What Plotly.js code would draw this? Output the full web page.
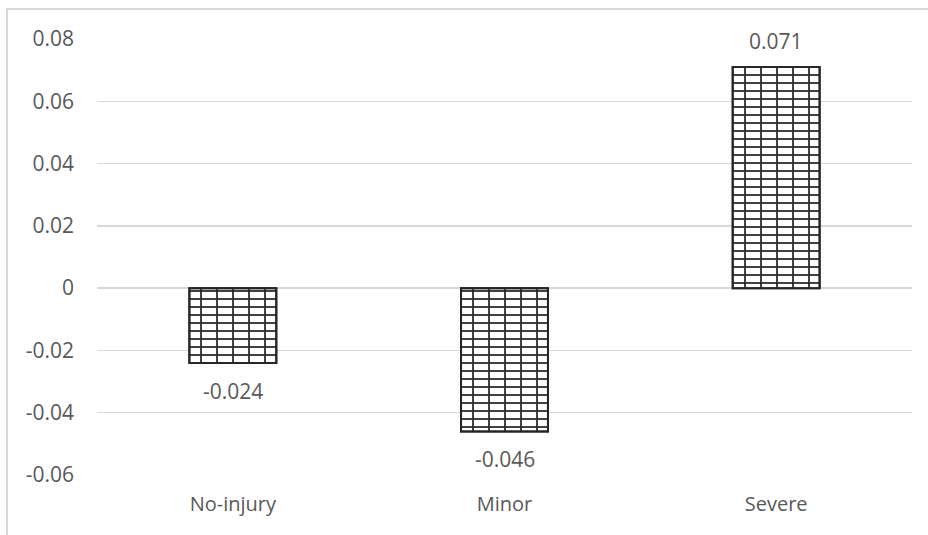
<!DOCTYPE html>
<html>
<head>
<meta charset="utf-8">
<script src="https://cdn.plot.ly/plotly-3.0.1.min.js"></script>
<style>
html,body{margin:0;padding:0;background:#fff;}
#wrap{position:relative;width:928px;height:535px;overflow:hidden;}
#chart{position:absolute;left:0;top:0;width:928px;height:535px;}
#frame{position:absolute;left:6px;top:8px;width:1000px;height:1000px;border-left:2px solid #d9d9d9;border-top:2px solid #d9d9d9;pointer-events:none;}
</style>
</head>
<body>
<div id="wrap"><div id="chart"></div><div id="frame"></div></div>
<script>
const categories = ["No-injury", "Minor", "Severe"];
const values = [-0.024, -0.046, 0.071];
const labels = ["-0.024", "-0.046", "0.071"];
const yTickVals = [-0.06, -0.04, -0.02, 0, 0.02, 0.04, 0.06, 0.08];
const yTickText = ["-0.06", "-0.04", "-0.02", "0", "0.02", "0.04", "0.06", "0.08"];

const font = {family: "Open Sans, sans-serif", size: 20, color: "#595959"};
const yfont = {family: "Open Sans, sans-serif", size: 21, color: "#595959"};

const horiz = {
  type: "bar", x: categories, y: values, hoverinfo: "skip",
  marker: {
    color: "#000000",
    line: {color: "#262626", width: 2},
    pattern: {shape: "-", size: 8, solidity: 0.22, fgcolor: "#262626", bgcolor: "#ffffff"}
  }
};
const vert = {
  type: "bar", x: categories, y: values, hoverinfo: "skip",
  marker: {
    color: "#262626",
    line: {color: "#262626", width: 2},
    pattern: {shape: "|", size: 16, solidity: 0.11, fgcolor: "#262626"}
  }
};

const annotations = categories.map((c, i) => ({
  x: c, y: values[i], xref: "x", yref: "y",
  text: labels[i], showarrow: false, font: yfont,
  yanchor: "middle", yshift: values[i] < 0 ? -28 : 26
}));

const layout = {
  width: 928, height: 535,
  margin: {l: 97, r: 16, t: 38.5, b: 59.7},
  paper_bgcolor: "rgba(0,0,0,0)", plot_bgcolor: "#ffffff",
  showlegend: false,
  barmode: "overlay", bargap: 0.68,
  font: font,
  xaxis: {
    showgrid: false, zeroline: false, showline: false, ticks: "",
    tickfont: font, ticklabelstandoff: 15, fixedrange: true
  },
  yaxis: {
    range: [-0.06, 0.08], tickvals: yTickVals, ticktext: yTickText,
    showgrid: true, gridcolor: "#d9d9d9", gridwidth: 1.3,
    zeroline: true, zerolinecolor: "#d9d9d9", zerolinewidth: 1.3,
    showline: false, ticks: "", tickfont: yfont, ticklabelstandoff: 22, fixedrange: true
  },
  annotations: annotations
};

Plotly.newPlot("chart", [horiz, vert], layout, {staticPlot: true, displayModeBar: false});
</script>
</body>
</html>
